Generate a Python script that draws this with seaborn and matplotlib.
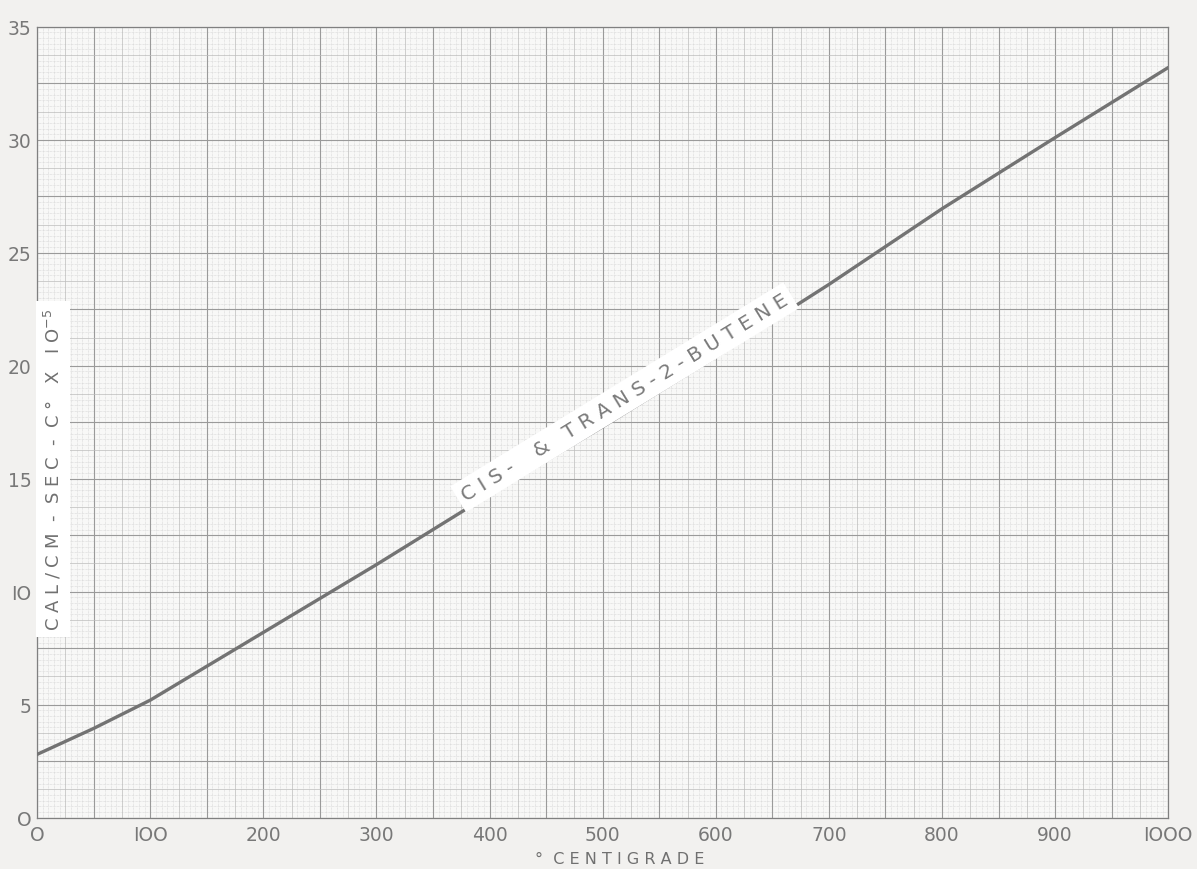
"""
Thermal conductivity of cis- & trans-2-butene vs temperature (graph-paper style).
"""

import numpy as np
import matplotlib.pyplot as plt
import seaborn as sns

# values
temp_c = [0, 50, 100, 150, 200, 250, 300, 400, 500, 600, 700, 800, 900, 1000]
conductivity = [2.8, 3.95, 5.2, 6.7, 8.2, 9.7, 11.2, 14.3, 17.3, 20.4, 23.6, 26.95, 30.1, 33.2]

x_ticks = [0, 100, 200, 300, 400, 500, 600, 700, 800, 900, 1000]
x_tick_labels = ['O', 'IOO', '200', '300', '400', '500', '600', '700', '800', '900', 'IOOO']
y_ticks = [0, 5, 10, 15, 20, 25, 30, 35]
y_tick_labels = ['O', '5', 'IO', '15', '20', '25', '30', '35']

# lettering-guide style: letters spread apart
curve_label = 'C I S -    &   T R A N S - 2 - B U T E N E'
y_label = 'C A L / C M  -  S E C  -  C °   X   I O$^{-5}$'
x_label = '°  C E N T I G R A D E'

INK = '#707070'

sns.set_style('white')
plt.rcParams['font.family'] = ['DejaVu Sans']

fig = plt.figure(figsize=(11.97, 8.70), dpi=100, facecolor='#f2f1ef')
ax = fig.add_axes([0.031, 0.059, 0.945, 0.909])
ax.set_facecolor('#f8f8f7')

# graph paper grid: fine / medium / major
for xv in np.arange(0, 1001, 5):
    if xv % 50 == 0:
        ax.axvline(xv, color='#9a9a9a', lw=0.8, zorder=1)
    elif xv % 25 == 0:
        ax.axvline(xv, color='#bcbcbc', lw=0.5, zorder=1)
    else:
        ax.axvline(xv, color='#d4d4d4', lw=0.5, ls=(0, (1, 1)), zorder=0)
for yv in np.arange(0, 35.01, 0.25):
    if abs(yv / 2.5 - round(yv / 2.5)) < 1e-6:
        ax.axhline(yv, color='#9a9a9a', lw=0.8, zorder=1)
    elif abs(yv / 1.25 - round(yv / 1.25)) < 1e-6:
        ax.axhline(yv, color='#bcbcbc', lw=0.5, zorder=1)
    else:
        ax.axhline(yv, color='#d4d4d4', lw=0.5, ls=(0, (1, 1)), zorder=0)

sns.lineplot(x=temp_c, y=conductivity, ax=ax, color='#737373', lw=2.4, zorder=3)

ax.set_xlim(0, 1000)
ax.set_ylim(0, 35)
ax.set_xticks(x_ticks)
ax.set_xticklabels(x_tick_labels)
ax.set_yticks(y_ticks)
ax.set_yticklabels(y_tick_labels)
ax.tick_params(length=0, colors='#787878', labelsize=13.5)
ax.tick_params(axis='x', pad=5)
ax.tick_params(axis='y', pad=4)
ax.set_xlabel('')
ax.set_ylabel('')
for s in ax.spines.values():
    s.set_color('#808080')
    s.set_linewidth(0.9)

# y-axis label sits inside the plot on a white strip
ax.text(0.014, 0.441, y_label, transform=ax.transAxes, rotation=90,
        ha='center', va='center', fontsize=13, color=INK, zorder=5,
        bbox=dict(facecolor='white', edgecolor='none', pad=5))

fig.text(0.518, 0.003, x_label, ha='center', va='bottom', fontsize=11.5, color=INK)

# curve label on a white strip resting on the line
ax.text(522, 18.4, curve_label, rotation=31.5, rotation_mode='anchor',
        ha='center', va='baseline', fontsize=14.5, color='#7a7a7a', zorder=4,
        bbox=dict(facecolor='white', edgecolor='none', pad=4))

plt.savefig('out.png', dpi=100, facecolor=fig.get_facecolor())
